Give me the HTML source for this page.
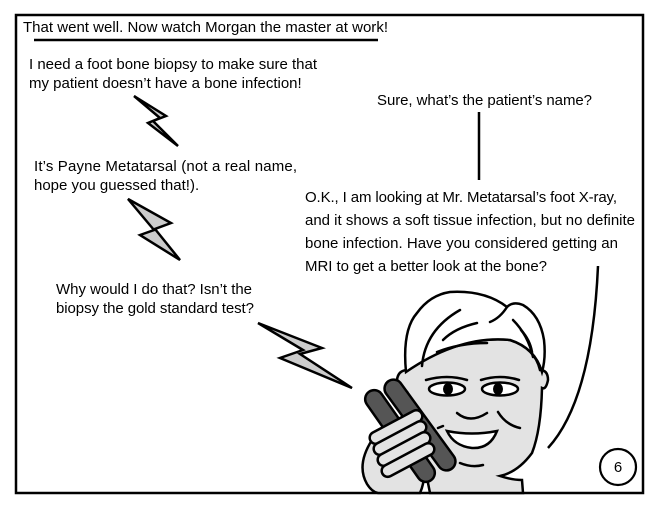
<!DOCTYPE html>
<html><head><meta charset="utf-8"><style>
html,body{margin:0;padding:0;background:#fff;}
svg{display:block;}
text{font-family:"Liberation Sans",Arial,sans-serif;font-size:15px;fill:#000;}
</style></head><body>
<svg width="660" height="510" viewBox="0 0 660 510" xmlns="http://www.w3.org/2000/svg">
<rect x="16" y="15" width="627" height="478" fill="#fff" stroke="#000" stroke-width="2.5"/>
<text x="23" y="32" textLength="365">That went well. Now watch Morgan the master at work!</text>
<line x1="34" y1="40" x2="378" y2="40" stroke="#000" stroke-width="2.5"/>
<text x="29" y="69" textLength="288">I need a foot bone biopsy to make sure that</text>
<text x="29" y="88">my patient doesn’t have a bone infection!</text>
<text x="34" y="171" textLength="263">It’s Payne Metatarsal (not a real name,</text>
<text x="34" y="190">hope you guessed that!).</text>
<text x="56" y="294" textLength="196">Why would I do that? Isn’t the</text>
<text x="56" y="313" textLength="198">biopsy the gold standard test?</text>
<text x="377" y="105" textLength="215">Sure, what’s the patient’s name?</text>
<text x="305" y="202" textLength="312">O.K., I am looking at Mr. Metatarsal’s foot X-ray,</text>
<text x="305" y="225" textLength="330">and it shows a soft tissue infection, but no definite</text>
<text x="305" y="248" textLength="313">bone infection. Have you considered getting an</text>
<text x="305" y="271" textLength="242">MRI to get a better look at the bone?</text>
<line x1="479" y1="112" x2="479" y2="180" stroke="#000" stroke-width="2.5"/>
<path d="M598 266 Q592 400 548 448" fill="none" stroke="#000" stroke-width="2.5"/>
<g fill="#ccc" stroke="#000" stroke-width="2.5" stroke-linejoin="miter">
<polygon points="134,96 166,116 153,121 178,146 148,123 160,118"/>
<polygon points="128,199 171,223 155,229 180,260 140,235 154,230"/>
<polygon points="258,323 322,348 300,354 352,388 280,358 303,350"/>
</g>
<g stroke="#000" stroke-width="2.5" stroke-linecap="round" fill="#e3e3e3">
<path d="M430 493 L427 478 Q410 450 407 392 Q397 390 397 380 Q398 370 408 370 Q460 335 510 340 Q535 348 540 370 Q548 370 548 380 Q546 390 542 388 Q541 430 532 453 Q518 472 500 476 Q512 480 522 480 L523 493 Z"/>
<path d="M406 372 Q402 330 417 313 Q430 295 450 292 Q485 290 507 307 Q513 301 523 305 Q540 315 544 340 Q546 358 542 372 Q535 348 510 340 Q460 335 406 372 Z" fill="#fff"/>
<g fill="none">
<path d="M422 366 Q425 330 460 310"/>
<path d="M443 340 Q455 328 477 323"/>
<path d="M437 352 Q460 343 487 343"/>
<path d="M507 307 Q500 318 490 322"/>
<path d="M513 320 Q528 335 533 357"/>
<path d="M521 330 Q530 340 532 352"/>
<path d="M426 380 Q447 374 467 380"/>
<path d="M481 380 Q500 374 519 380"/>
<path d="M457 413 Q470 424 487 413"/>
<path d="M498 412 Q506 425 520 428"/>
<path d="M438 428 L443 426"/>
<path d="M460 463 Q472 468 483 465"/>
</g>
<path d="M447 431 Q472 436 497 431 Q490 449 472 448 Q454 446 447 431 Z" fill="#fff"/>
<ellipse cx="447" cy="389" rx="18" ry="6.5" fill="#fff"/>
<ellipse cx="500" cy="389" rx="18" ry="6.5" fill="#fff"/>
</g>
<ellipse cx="448" cy="389" rx="5" ry="6" fill="#000"/>
<ellipse cx="498" cy="389" rx="5" ry="6" fill="#000"/>
<g stroke="#000" stroke-width="2.5">
<path d="M372 440 Q356 465 367 484 Q372 492 378 493 L420 493 Q428 475 420 455 Z" fill="#e3e3e3"/>
<g fill="#555">
<rect x="-54" y="-9" width="108" height="18" rx="9" transform="translate(400,436) rotate(55)"/>
<rect x="-54" y="-9" width="108" height="18" rx="9" transform="translate(420,425) rotate(54)"/>
</g>
<g fill="#e3e3e3">
<rect x="-29" y="-6" width="58" height="12" rx="6" transform="translate(396,427) rotate(-28)"/>
<rect x="-29" y="-6" width="58" height="12" rx="6" transform="translate(400,438) rotate(-28)"/>
<rect x="-29" y="-6" width="58" height="12" rx="6" transform="translate(404,449) rotate(-28)"/>
<rect x="-29" y="-6" width="58" height="12" rx="6" transform="translate(408,460) rotate(-28)"/>
</g>
</g>
<circle cx="618" cy="467" r="18" fill="#fff" stroke="#000" stroke-width="2.2"/>
<text x="618" y="472" text-anchor="middle">6</text>
</svg>
</body></html>
